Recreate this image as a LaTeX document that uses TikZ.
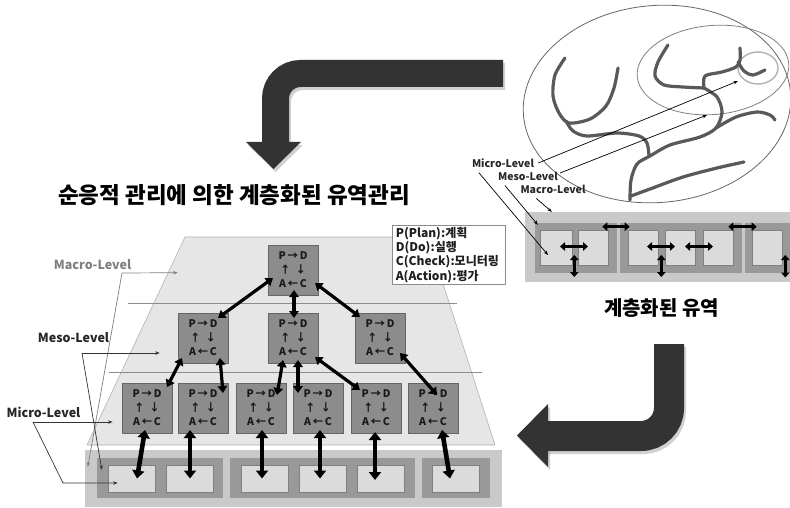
\documentclass[tikz,border=0pt]{standalone}
\usepackage{fontspec}
\setmainfont{Noto Sans CJK KR}
\usetikzlibrary{arrows.meta,calc,shapes.geometric}

\definecolor{blockgray}{HTML}{333333}
\definecolor{pyramid}{HTML}{E6E6E6}

% the two bent block arrows, drawn once as a soft shadow and once solid
\newcommand{\bendarrows}[1]{%
  \draw[draw=#1, line width=27pt, rounded corners=25pt] (503,73.5) -- (275.5,73.5) -- (275.5,143);
  \fill[fill=#1] (246,142) -- (301,142) -- (273.5,169) -- cycle;
  \draw[draw=#1, line width=30pt, rounded corners=28pt] (669,344) -- (669,436) -- (547,436);
  \fill[fill=#1] (548,404) -- (548,467) -- (517,435.5) -- cycle;
}

\begin{document}
\begin{tikzpicture}[x=1pt,y=-1pt,
  lbl/.style={font=\bfseries\fontsize{12.5}{14}\selectfont, inner sep=0pt, text=black!85},
  slbl/.style={font=\bfseries\fontsize{10.5}{12}\selectfont, inner sep=0pt, text=black!85},
  pdca/.style={draw=black!60, line width=0.6pt, fill=black!45, minimum width=50pt, minimum height=50pt,
    inner sep=0pt, align=center, text=black!90, font=\bfseries\fontsize{10.5}{14}\selectfont},
  outerband/.style={fill=black!21, inner sep=0pt},
  midband/.style={fill=black!40, inner sep=0pt},
  cell/.style={fill=black!14, draw=black!50, line width=0.6pt, inner sep=0pt},
  link/.style={line width=3.2pt, {Triangle[length=7pt,width=9.5pt]}-{Triangle[length=7pt,width=9.5pt]}},
  drop/.style={line width=4.6pt, {Triangle[length=8pt,width=12pt]}-{Triangle[length=8pt,width=12pt]}},
  flow/.style={line width=2.8pt, {Triangle[length=5pt,width=8.5pt]}-{Triangle[length=5pt,width=8.5pt]}},
  pointer/.style={line width=0.7pt, -{Stealth[length=4.5pt,width=3.5pt]}},
  river/.style={draw=black!65, line width=3.2pt, line cap=round, line join=round},
]
\useasboundingbox (0,0) rectangle (790,508);
\fill[white] (0,0) rectangle (790,508);

% ---------- block arrows ----------
\begin{scope}[shift={(2,3)}, opacity=0.18]
  \bendarrows{black}
\end{scope}
\bendarrows{blockgray}

% ---------- river basin ----------
\node[draw=black!60, line width=0.8pt, ellipse, minimum width=268pt, minimum height=197pt, rotate=5] (basin) at (657,104) {};
\node[draw=black!50, line width=0.8pt, ellipse, minimum width=152pt, minimum height=89pt, rotate=5] (me) at (713,70) {};
\node[draw=black!30, line width=1.4pt, ellipse, minimum width=40pt, minimum height=32pt] (se) at (758,68) {};

\draw[river] plot[smooth] coordinates {(565,58) (555,75) (553,96) (559,113) (569,123) (590,119) (606,106) (614,88) (618,68)};
\draw[river] plot[smooth] coordinates {(566,121) (573,131) (587,136) (617,133) (639,136) (647,143) (649,156)};
\draw[river] plot[smooth] coordinates {(630,200) (631,180) (637,164) (650,156) (670,145) (700,137) (716,128) (722,112) (717,97) (704,88)};
\draw[river] plot[smooth] coordinates {(704,88) (705,76) (722,72) (736,67) (740,60) (740,48)};
\draw[river] plot[smooth] coordinates {(738,62) (744,71) (753,75) (765,70)};
\draw[river] plot[smooth] coordinates {(668,45) (658,62) (655,76) (664,85) (683,87) (704,88)};
\draw[river] plot[smooth] coordinates {(716,128) (736,117) (757,112) (770,115) (775,120)};
\draw[river] plot[smooth] coordinates {(631,196) (650,189) (683,177) (717,168) (744,162)};

% ---------- nested sub-basin bands (right) ----------
\node[outerband, minimum width=265pt, minimum height=70pt] (ob) at (657.5,247) {};
\node[midband, minimum width=82pt, minimum height=50pt] (g1) at (576,248) {};
\node[midband, minimum width=122pt, minimum height=50pt] (g2) at (681,248) {};
\node[midband, minimum width=45pt, minimum height=50pt] (g3) at (767.5,248) {};
\foreach \n/\x/\w in {c1/556/32, c2/593/30, c3/643/30, c4/680/30, c5/718/30, c6/767/30}
  \node[cell, minimum width=\w pt, minimum height=35pt] (\n) at (\x,247.5) {};

\draw[flow] ($(c1.center)+(4,-1)$) -- ($(c2.center)+(-5,-1)$);
\draw[flow] ($(c1.east)+(2,7.5)$) -- ($(c1.east)+(2,29.5)$);
\draw[flow] ($(c2.north east)+(-6,-3)$) -- ($(c3.north west)+(2,-3)$);
\draw[flow] ($(c3.center)+(4,-1)$) -- ($(c4.center)+(-5,-1)$);
\draw[flow] ($(c3.east)+(3,7.5)$) -- ($(c3.east)+(3,29.5)$);
\draw[flow] ($(c4.center)+(5,-1)$) -- ($(c5.center)+(-5,-1)$);
\draw[flow] ($(c5.north east)+(-5,-3)$) -- ($(c6.north west)+(5,-3)$);
\draw[flow] ($(c6.east)+(3,7.5)$) -- ($(c6.east)+(3,30)$);

\node[slbl] (trmi) at (503,163) {Micro-Level};
\node[slbl] (trme) at (528,176) {Meso-Level};
\node[slbl] (trma) at (553,189) {Macro-Level};
\draw[pointer] ($(trmi.east)+(4,0)$) -- ($(se.center)+(-20,13)$);
\draw[pointer] ($(trme.east)+(2,-3)$) -- ($(me.center)+(-6,45)$);
\draw[pointer] ($(trmi.south west)+(7,5)$) -- ($(c1.center)+(-8,7.5)$);
\draw[pointer] ($(trme.south west)+(7,5)$) -- ($(g1.north west)+(3,2)$);
\draw[pointer] ($(trma.south west)+(16,5)$) -- ($(ob.north west)+(27,0)$);

\node[font=\bfseries\fontsize{20}{22}\selectfont, inner sep=0pt] (sub) at (661.5,308) {계층화된 유역};

% ---------- adaptive management hierarchy (left) ----------
\node[font=\bfseries\fontsize{22.5}{25}\selectfont, inner sep=0pt] (title) at (234,195) {순응적 관리에 의한 계층화된 유역관리};

\fill[pyramid, draw=black!30, line width=0.6pt] (185,237) -- (428,237) -- (495,445) -- (87,445) -- cycle;
\draw[black!45, line width=0.6pt] (128,303) -- (457,303);
\draw[black!45, line width=0.6pt] (109,372) -- (482,372);

\node[outerband, minimum width=417pt, minimum height=57pt] (bb) at (293.5,478.5) {};
\node[midband, minimum width=126pt, minimum height=40pt] (bg1) at (160,478) {};
\node[midband, minimum width=185pt, minimum height=40pt] (bg2) at (322.5,478) {};
\node[midband, minimum width=68pt, minimum height=40pt] (bg3) at (456,478) {};
\foreach \n/\x in {b1/131.5, b2/190, b3/265, b4/322.5, b5/380.5, b6/455.5}
  \node[cell, minimum width=47pt, minimum height=27pt] (\n) at (\x,478.5) {};

\newcommand{\pdcatext}{P\,→\,D\\↑\hspace{5pt}↓\\A\,←\,C}
\node[pdca] (T) at (293,270) {\pdcatext};
\node[pdca] (m1) at (203,338) {\pdcatext};
\node[pdca] (m2) at (293,338) {\pdcatext};
\node[pdca] (m3) at (380,338) {\pdcatext};
\foreach \n/\x in {u1/147, u2/203, u3/261, u4/318, u5/376, u6/433}
  \node[pdca] (\n) at (\x,408) {\pdcatext};

\node[draw=black!45, fill=white, line width=0.6pt, anchor=north west, align=left, text width=106pt,
  inner xsep=3.5pt, inner ysep=2pt, font=\bfseries\fontsize{12}{14.2}\selectfont, text=black!88] (legend) at (392,225)
  {P(Plan):계획\\D(Do):실행\\C(Check):모니터링\\A(Action):평가};

% links between management levels
\draw[link] ($(T.center)+(-20,8)$) -- ($(m1.center)+(15,-20)$);
\draw[link] ($(T.center)+(1,20)$) -- ($(m2.center)+(1,-20)$);
\draw[link] ($(T.center)+(22,13)$) -- ($(m3.center)+(-20,-21)$);
\draw[link] ($(m1.center)+(-21,20)$) -- ($(u1.center)+(20,-21)$);
\draw[link] ($(m1.center)+(17,20)$) -- ($(u2.center)+(20,-15)$);
\draw[link] ($(m2.center)+(-10,22)$) -- ($(u3.center)+(16,-13)$);
\draw[link] ($(m2.center)+(5,22)$) -- ($(u4.center)+(-20,-15)$);
\draw[link] ($(m2.center)+(22,19)$) -- ($(u5.center)+(-16,-18)$);
\draw[link] ($(m3.center)+(20,15)$) -- ($(u6.center)+(4,-13)$);

% links from micro units down to sub-basins
\draw[drop] ($(u1.center)+(-2,22)$) -- ($(b1.center)+(5.5,0)$);
\draw[drop] ($(u2.center)+(-13,22)$) -- (b2.center);
\draw[drop] ($(u3.center)+(1,22)$) -- ($(b3.center)+(-3,0)$);
\draw[drop] ($(u4.center)+(2,22)$) -- ($(b4.center)+(-2.5,0)$);
\draw[drop] ($(u5.center)+(-1,24)$) -- ($(b5.center)+(-5.5,1.5)$);
\draw[drop] ($(u6.center)+(9,22)$) -- ($(b6.center)+(-5.5,0)$);

% level labels and their pointers
\node[lbl, text=black!50] (macL) at (92.5,265) {Macro-Level};
\node[lbl] (mesL) at (73.5,338) {Meso-Level};
\node[lbl] (micL) at (43.5,412) {Micro-Level};

\coordinate (macK) at (122,273);
\coordinate (mesK) at (82,353);
\coordinate (micK) at (33,422);
\coordinate (micB) at (63,483);
\draw[pointer, black!50] (macK) -- ($(m1.north west)+(0,-40)$);
\draw[pointer, black!50] (macK) -- ($(bb.north west)+(3,17)$);
\draw[pointer, black!80] (mesK) -- ($(m1.west)+(-18,15)$);
\draw[pointer, black!80] (mesK) -- ($(bg1.north west)+(5,12)$);
\draw[pointer, black!80] (micK) -- ($(u1.west)+(-9,14)$);
\draw[pointer, black!80] (micK) -- (micB) -- ($(b1.west)+(10,4.5)$);
\end{tikzpicture}
\end{document}
